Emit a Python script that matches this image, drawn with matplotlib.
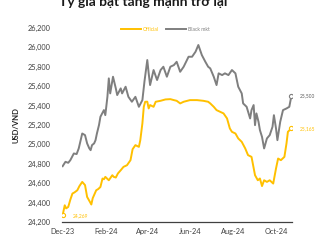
import datetime as dt
import matplotlib
matplotlib.use("Agg")
import matplotlib.pyplot as plt
import matplotlib.dates as mdates

# days since 2023-12-01
official_days = [0, 3, 5, 8, 11, 14, 17, 21, 24, 28, 32, 35, 39, 41, 43, 48, 51, 54, 57, 59,
                 61, 66, 71, 73, 76, 79, 83, 87, 92, 97, 100, 104, 109, 111, 114, 116, 118,
                 121, 123, 125, 130, 133, 140, 147, 154, 159, 163, 168, 173, 182, 192, 201,
                 208, 211, 216, 220, 225, 230, 235, 239, 242, 247, 251, 256, 261, 265, 270,
                 275, 279, 282, 285, 288, 292, 296, 301, 305, 308, 312, 317, 320, 322, 327]
official = [24269, 24372, 24340, 24355, 24430, 24493, 24505, 24527, 24570, 24613, 24580,
            24458, 24407, 24380, 24445, 24527, 24540, 24561, 24648, 24640, 24665, 24630,
            24682, 24665, 24658, 24700, 24733, 24768, 24785, 24837, 24950, 24992, 24974,
            25043, 25216, 25387, 25439, 25440, 25370, 25405, 25387, 25439, 25449, 25463,
            25466, 25456, 25449, 25422, 25439, 25456, 25456, 25449, 25439, 25422, 25387,
            25353, 25336, 25319, 25267, 25164, 25129, 25112, 25061, 25026, 24958, 24889,
            24871, 24682, 24630, 24648, 24570, 24630, 24613, 24630, 24596, 24751, 24854,
            24837, 24871, 25010, 25129, 25165]

black_days = [0, 4, 8, 11, 16, 20, 23, 26, 28, 32, 35, 38, 40, 42, 45, 47, 49, 52, 54, 59,
              61, 64, 66, 68, 72, 76, 78, 83, 85, 90, 94, 99, 104, 109, 114, 117, 121, 123,
              125, 130, 135, 140, 144, 149, 154, 159, 163, 168, 173, 180, 185, 190, 194, 199,
              204, 208, 211, 216, 220, 223, 228, 232, 237, 242, 247, 251, 256, 258, 263, 268,
              270, 273, 275, 277, 280, 282, 285, 288, 292, 296, 300, 302, 305, 307, 311, 315,
              320, 324, 327]
black = [24775, 24820, 24810, 24837, 24906, 24900, 24958, 25050, 25112, 25095, 25010, 24960,
         24940, 24992, 25010, 25043, 25112, 25200, 25284, 25353, 25301, 25490, 25680, 25525,
         25697, 25577, 25508, 25577, 25525, 25594, 25490, 25439, 25490, 25387, 25456, 25650,
         25869, 25732, 25611, 25766, 25663, 25766, 25800, 25697, 25800, 25817, 25851, 25748,
         25800, 25903, 25903, 25955, 26024, 25920, 25851, 25800, 25783, 25697, 25611, 25732,
         25714, 25732, 25714, 25766, 25732, 25594, 25525, 25422, 25387, 25267, 25353, 25405,
         25198, 25319, 25232, 25147, 25077, 24958, 25061, 25095, 25181, 25301, 25164, 25043,
         25232, 25353, 25370, 25387, 25500]

yticks = [24200, 24400, 24600, 24800, 25000, 25200, 25400, 25600, 25800, 26000, 26200]
month_ticks = ["2023-12-01", "2024-02-01", "2024-04-01", "2024-06-01", "2024-08-01", "2024-10-01"]

start = dt.date(2023, 12, 1)
x_off = [start + dt.timedelta(days=d) for d in official_days]
x_blk = [start + dt.timedelta(days=d) for d in black_days]

YELLOW = "#FFC000"
GRAY = "#7F7F7F"
plt.rcParams["font.family"] = ["Lato", "DejaVu Sans"]

fig = plt.figure(figsize=(3.26, 2.45), dpi=100)
ax = fig.add_axes([0.190, 0.094, 0.706, 0.792])

ax.plot(x_off, official, color=YELLOW, lw=1.4, label="Official")
ax.plot(x_blk, black, color=GRAY, lw=1.4, label="Black mkt")

ax.plot(x_off[0], official[0], "o", ms=3, mfc="white", mec=YELLOW, mew=0.8)
ax.plot(x_off[-1], official[-1], "o", ms=3, mfc="white", mec=YELLOW, mew=0.8)
ax.plot(x_blk[-1], black[-1], "o", ms=3, mfc="white", mec=GRAY, mew=0.8)

ax.annotate(f"{official[0]:,}", (x_off[0], official[0]), xytext=(7, 0),
            textcoords="offset points", color=YELLOW, fontsize=3.5, va="center")
ax.annotate(f"{official[-1]:,}", (x_off[-1], official[-1]), xytext=(6, 0),
            textcoords="offset points", color=YELLOW, fontsize=3.5, va="center")
ax.annotate(f"{black[-1]:,}", (x_blk[-1], black[-1]), xytext=(6, 0),
            textcoords="offset points", color="#595959", fontsize=3.5, va="center")

ax.set_ylim(24200, 26200)
ax.set_yticks(yticks)
ax.set_yticklabels([f"{v:,}" for v in yticks])
ax.set_xlim(start - dt.timedelta(days=1), start + dt.timedelta(days=328))
ax.set_xticks([dt.datetime.strptime(m, "%Y-%m-%d") for m in month_ticks])
ax.xaxis.set_major_formatter(mdates.DateFormatter("%b-%y"))
ax.tick_params(axis="both", length=0, labelsize=5.3, colors="#404040")
ax.tick_params(axis="y", pad=8)
ax.tick_params(axis="x", pad=4)

for s in ["top", "right", "left"]:
    ax.spines[s].set_visible(False)
ax.spines["bottom"].set_color("#404040")
ax.spines["bottom"].set_linewidth(0.9)

ax.set_ylabel("USD/VND", fontsize=5.5, fontweight="bold", color="#262626", labelpad=6)

ax.legend(loc="upper center", bbox_to_anchor=(0.45, 1.03), ncol=2, frameon=False,
          fontsize=3.6, handlelength=4, columnspacing=1.5, handletextpad=0.3,
          labelcolor=[YELLOW, GRAY])

fig.text(0.44, 0.975, "Tỷ giá bật tăng mạnh trở lại", ha="center", va="baseline",
         fontsize=10, fontweight="bold", color="#1a1a1a")

fig.savefig("out.png", dpi=100)
